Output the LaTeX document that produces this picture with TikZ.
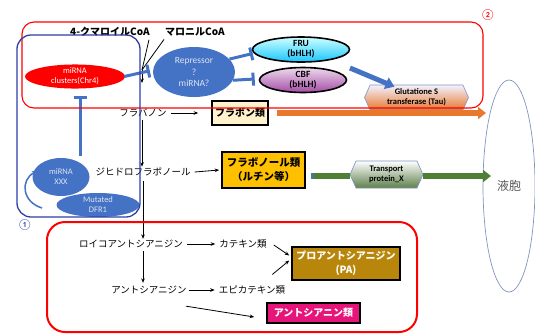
\documentclass[tikz,border=0pt]{standalone}
\usepackage{fontspec}
\setmainfont{Carlito}
\newfontfamily\jp{Noto Sans CJK JP}
\usetikzlibrary{shapes.geometric,shapes.symbols,arrows.meta}
\definecolor{bfill}{HTML}{4472C4}
\definecolor{bframe}{HTML}{2E3FA8}
\definecolor{lighttxt}{HTML}{DCE4F4}
\definecolor{gold}{HTML}{FFC000}
\definecolor{pabrown}{HTML}{B8860B}
\definecolor{pink}{HTML}{E6157A}
\definecolor{cream}{HTML}{FFF2CC}
\definecolor{orangearr}{HTML}{E8782E}
\definecolor{greenarr}{HTML}{4F7F33}
\definecolor{vacu}{HTML}{7F95C0}
\begin{document}
\begin{tikzpicture}[x=1pt,y=-1pt,
  jp/.style={font=\jp\fontsize{9.5}{11}\selectfont, inner sep=1pt},
  jpb/.style={font=\jp\bfseries\fontsize{10}{12}\selectfont, inner sep=1pt},
  arr/.style={draw=black, line width=0.8pt, -{Stealth[length=4.5pt,width=3.6pt]}},
  inhib/.style={draw=bfill, line width=3pt, -{Bar[width=13pt,line width=3pt]}},
  blob/.style={ellipse, fill=bfill, text=lighttxt, inner sep=0pt, align=center, font=\fontsize{8.5}{10}\selectfont},
  tf/.style={ellipse, draw=black, line width=1.6pt, inner sep=0pt, align=center, font=\bfseries\fontsize{9.5}{10}\selectfont},
  hexa/.style={signal, signal to=west and east, signal pointer angle=132, inner sep=0pt, align=center, font=\bfseries\fontsize{8.5}{10}\selectfont},
  prodbox/.style={draw=black, line width=1.6pt, inner sep=0pt, align=center, font=\jp\bfseries\fontsize{10}{12}\selectfont}
]
\useasboundingbox (0,0) rectangle (535,333);

% vacuole
\node[ellipse, draw=vacu, line width=0.7pt, minimum width=52pt, minimum height=212pt, inner sep=0pt] (vac) at (509,186) {};
\node[font=\jp\fontsize{12}{14}\selectfont, text=black!65] (vactxt) at (509,186) {液胞};

% precursors
\node[jpb] (coum) at (110,32) {4-クマロイルCoA};
\node[jpb] (malo) at (195,32) {マロニルCoA};
\coordinate (meet) at (142,70);
\coordinate (meetend) at (142,83);
\draw[line width=0.8pt] (coum.south east) ++(-2,2) coordinate (c1) -- (meet);
\draw[line width=0.8pt] (malo.south west) ++(0,2) coordinate (c2) -- (meet);
\draw[arr] (meet) -- (meetend);

% regulators
\node[ellipse, fill=red, text=white, minimum width=100pt, minimum height=24pt, inner sep=0pt, align=center, font=\fontsize{8.5}{10}\selectfont] (mirc) at (75,76.5) {miRNA\\clusters(Chr4)};
\node[blob, minimum width=82pt, minimum height=50pt, font=\fontsize{9.5}{11.5}\selectfont] (rep) at (194,72) {Repressor\\?\\miRNA?};
\node[tf, minimum width=97pt, minimum height=25pt, top color=cyan!20, bottom color=cyan!75!blue!90] (fru) at (301,49.5) {FRU\\(bHLH)};
\node[tf, minimum width=87pt, minimum height=24pt, top color=violet!15, bottom color=violet!70] (cbf) at (303,80) {CBF\\(bHLH)};
\node[blob, minimum width=57pt, minimum height=38pt] (mxxx) at (61,177) {miRNA\\XXX};
\node[blob, minimum width=83pt, minimum height=24pt] (mdfr) at (98,205) {Mutated\\DFR1};

\draw[inhib, shorten >=-1pt] ([xshift=-1pt]mirc.east) -- ([xshift=-4pt,yshift=1pt]rep.west);
\draw[inhib] (rep.20) -- ([xshift=1pt,yshift=-4pt]fru.west);
\draw[inhib] (rep.-12) -- ([xshift=-4pt,yshift=1pt]cbf.west);
\draw[inhib] (mxxx.north -| 80,0) ++(0,-2) coordinate (x1) -- ([yshift=-7pt]mirc.south -| x1);

\coordinate (cv1) at (42,208);
\coordinate (cv2) at (37,171);
\draw[draw=bfill, line width=1.5pt, -{Stealth[length=5pt,width=5pt]}] (cv1) .. controls (22,202) and (20,180) .. (cv2);

% Glutathione & transports
\node[hexa, minimum width=104pt, minimum height=25pt, top color=blue!5, bottom color=orangearr, draw=vacu, line width=0.6pt] (gst) at (416.5,97.5) {Glutatione S\\transferase (Tau)};
\coordinate (bb1) at (350,68);
\draw[draw=bfill, line width=5pt, -{Triangle[length=9pt,width=12pt]}] (bb1) -- ([xshift=-22pt,yshift=-2pt]gst.north);

% flavonoid pathway
\node[jp] (fla) at (143,113) {フラバノン};
\node[prodbox, fill=cream, text=black, minimum width=56pt, minimum height=24pt] (flv) at (240,113) {フラボン類};
\draw[arr] ([xshift=3pt]fla.east) -- ([xshift=-13pt]flv.west);
\coordinate (oend) at (486,113);
\draw[draw=orangearr, line width=5.5pt, -{Triangle[length=8pt,width=12pt]}] ([xshift=8pt]flv.east) -- (oend);

\node[jp] (dhf) at (143,172) {ジヒドロフラボノール};
\node[prodbox, fill=gold, text=black, minimum width=83pt, minimum height=36pt, font=\jp\bfseries\fontsize{10.5}{14}\selectfont] (flo) at (263.5,170) {フラボノール類\\（ルチン等）};
\draw[arr] ([xshift=3pt]dhf.east) -- ([xshift=-2pt]flo.west);
\node[hexa, minimum width=73pt, minimum height=27pt, top color=white, bottom color=greenarr!70!gray, draw=vacu, line width=0.6pt] (tp) at (386.5,174.5) {Transport\\protein\_X};
\coordinate (gend) at (491,176);
\draw[draw=greenarr, line width=5.5pt] ([xshift=5pt]flo.east |- gend) coordinate (g0) -- (tp.west |- gend);
\draw[draw=greenarr, line width=5.5pt, -{Triangle[length=8pt,width=12pt]}] (tp.east |- gend) -- (gend);
\fill[bfill] (g0) ++(0,-2.75) rectangle ++(2.5,5.5);

\draw[arr] (fla.south -| 142,0) ++(0,2) coordinate (v1) -- (dhf.north -| v1);

\node[jp] (leu) at (131,244) {ロイコアントシアニジン};
\node[jp] (cat) at (243,244) {カテキン類};
\node[jp] (ant) at (149,290) {アントシアニジン};
\node[jp] (epi) at (252,290) {エピカテキン類};
\node[prodbox, fill=pabrown, text=white, minimum width=108pt, minimum height=33pt, font=\jp\bfseries\fontsize{10}{14}\selectfont] (pa) at (346,263.5) {プロアントシアニジン\\(PA)};
\node[prodbox, fill=pink, text=white, minimum width=93pt, minimum height=20pt] (acn) at (313.5,313) {アントシアニン類};

\draw[arr] (dhf.south -| 143,0) ++(0,4) coordinate (v2) -- (leu.north -| v2);
\draw[arr] ([xshift=3pt]leu.east) -- ([xshift=-3pt]cat.west);
\draw[arr] ([yshift=-2pt]leu.south -| v2) -- ([yshift=2pt]ant.north -| v2);
\draw[arr] ([xshift=1pt]ant.east) -- ([xshift=-3pt]epi.west);
\draw[arr] ([xshift=-2pt,yshift=-11pt]ant.south east) -- ([xshift=-12pt,yshift=-4pt]acn.west);
\draw[arr] ([xshift=6pt,yshift=-1pt]cat.east) -- ([xshift=-2pt,yshift=8pt]pa.west);
\draw[arr] ([xshift=-14pt,yshift=10pt]epi.north east) -- ([xshift=-2pt,yshift=3pt]pa.west);

% frames on top
\draw[red, line width=1.1pt, rounded corners=12pt] (22,22) rectangle (483,108);
\node[text=red, font=\fontsize{11}{12}\selectfont] (n2) at (488,15) {②};
\draw[bframe, line width=1.3pt, rounded corners=14pt] (17,35) rectangle (140,217);
\node[text=bframe, font=\fontsize{11}{12}\selectfont] (n1) at (25,225) {①};
\draw[red, line width=2pt, rounded corners=18pt] (47,222) rectangle (417,332);
\end{tikzpicture}
\end{document}
